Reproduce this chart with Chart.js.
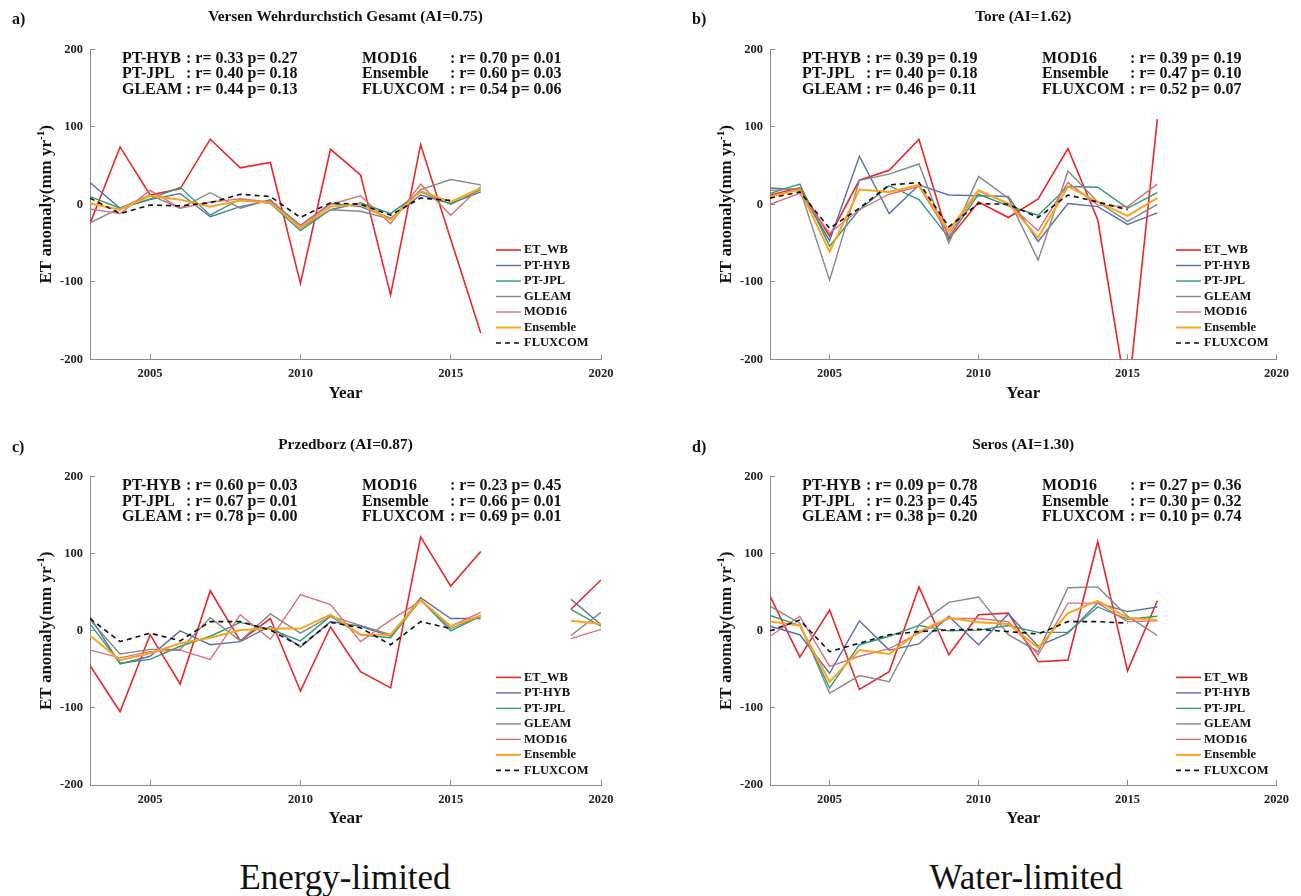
<!DOCTYPE html>
<html>
<head>
<meta charset="utf-8">
<script src="https://cdn.jsdelivr.net/npm/chart.js@4.4.0/dist/chart.umd.min.js"></script>
<style>
  body { margin: 0; background: #fff; width: 1301px; height: 896px; position: relative; overflow: hidden; }
  canvas { position: absolute; }
  .cap { position: absolute; width: 400px; text-align: center; font: 35px/35px "Liberation Serif", serif; color: #111; top: 860px; }
</style>
</head>
<body>
<canvas id="pa"></canvas>
<canvas id="pb"></canvas>
<canvas id="pc"></canvas>
<canvas id="pd"></canvas>
<div class="cap" style="left:145px">Energy-limited</div>
<div class="cap" style="left:826px">Water-limited</div>
<script>
// years on the x axis (2003 .. 2020)
const years = [2003, 2004, 2005, 2006, 2007, 2008, 2009, 2010, 2011, 2012, 2013, 2014, 2015, 2016, 2017, 2018, 2019, 2020];
const xTicks = [2005, 2010, 2015, 2020];
const yTicks = [-200, -100, 0, 100, 200];

const seriesNames = ['ET_WB', 'PT-HYB', 'PT-JPL', 'GLEAM', 'MOD16', 'Ensemble', 'FLUXCOM'];
const seriesColors = ['#e8262c', '#5a6eae', '#2f9b74', '#878787', '#d8707c', '#fba61a', '#111111'];
const seriesWidths = [1.6, 1.4, 1.4, 1.4, 1.4, 2, 1.6];

const statNamesLeft = ['PT-HYB', 'PT-JPL', 'GLEAM'];
const statNamesRight = ['MOD16', 'Ensemble', 'FLUXCOM'];

// a) Versen Wehrdurchstich Gesamt
const aETWB     = [-25, 74, 12, 20, 84, 47, 54, -102, 71, 38, -117, 77, -45, -166];
const aPTHYB    = [28, -5, 6, 14, -16, -3, 5, -27, 1, -3, -18, 12, 1, 16];
const aPTJPL    = [10, -5, 7, 22, -14, 7, 1, -34, -7, 2, -12, 16, 0, 19];
const aGLEAM    = [-24, -5, 12, -5, 15, -5, 6, -31, -7, -9, -19, 19, 32, 25];
const aMOD16    = [-6, -12, 18, -5, 3, 7, 3, -28, 0, 11, -25, 26, -14, 23];
const aEnsemble = [1, -7, 11, 6, -3, 5, 2, -30, -3, 0, -20, 17, 3, 21];
const aFLUXCOM  = [8, -12, -1, -2, 2, 13, 10, -17, 2, 0, -14, 8, 5];
const aStats = ['r= 0.33 p= 0.27', 'r= 0.40 p= 0.18', 'r= 0.44 p= 0.13', 'r= 0.70 p= 0.01', 'r= 0.60 p= 0.03', 'r= 0.54 p= 0.06'];

// b) Tore
const bETWB     = [12, 21, -41, 31, 44, 84, -45, 3, -17, 7, 72, -20, -255, 110];
const bPTHYB    = [21, 19, -47, 62, -12, 25, 12, 11, 10, -48, 1, -3, -26, -11];
const bPTJPL    = [14, 26, -54, -7, 24, 6, -43, 13, -2, -14, 23, 22, -5, 15];
const bGLEAM    = [18, 20, -98, 31, 39, 52, -50, 36, 8, -72, 43, 3, -22, 0];
const bMOD16    = [0, 14, -37, -7, 13, 23, -39, 17, 1, -34, 28, -1, -3, 26];
const bEnsemble = [10, 19, -61, 19, 16, 25, -34, 18, 1, -43, 23, 3, -15, 8];
const bFLUXCOM  = [8, 16, -31, -5, 25, 28, -29, 1, 0, -17, 12, 3, -7];
const bStats = ['r= 0.39 p= 0.19', 'r= 0.40 p= 0.18', 'r= 0.46 p= 0.11', 'r= 0.39 p= 0.19', 'r= 0.47 p= 0.10', 'r= 0.52 p= 0.07'];

// c) Przedborz
const cETWB     = [-45, -105, -5, -69, 52, -13, 16, -78, 5, -53, -74, 122, 58, 103, null, null, 28, 66];
const cPTHYB    = [18, -43, -33, 0, -18, -14, 6, -21, 12, 6, -7, 43, 16, 16, null, null, 41, 8];
const cPTJPL    = [9, -42, -37, -20, -7, 11, 2, -13, 19, -5, -9, 40, 0, 19, null, null, 28, 6];
const cGLEAM    = [14, -30, -24, -24, 17, -13, 22, -3, 19, 7, -5, 40, 3, 19, null, null, -6, 24];
const cMOD16    = [-25, -35, -27, -25, -37, 21, -11, 47, 34, -14, 14, 39, 6, 24, null, null, -10, 2];
const cEnsemble = [-6, -38, -29, -16, -9, 1, 3, 3, 21, -5, -5, 40, 6, 20, null, null, 13, 9];
const cFLUXCOM  = [16, -14, -3, -13, 12, 12, 1, -20, 11, 4, -18, 12, 3];
const cStats = ['r= 0.60 p= 0.03', 'r= 0.67 p= 0.01', 'r= 0.78 p= 0.00', 'r= 0.23 p= 0.45', 'r= 0.66 p= 0.01', 'r= 0.69 p= 0.01'];

// d) Seros
const dETWB     = [45, -34, 27, -76, -53, 57, -31, 21, 23, -40, -38, 116, -52, 39];
const dPTHYB    = [6, -5, -55, 13, -25, -17, 19, -18, 22, -20, -3, 36, 25, 31];
const dPTJPL    = [20, 7, -74, -18, -7, 7, 0, 1, 7, -2, -2, 31, 15, 19];
const dGLEAM    = [32, 10, -81, -58, -66, 8, 37, 44, -5, -27, 56, 57, 19, -6];
const dMOD16    = [-7, 19, -46, -33, -23, -3, 16, 16, 12, -31, 36, 36, 12, 13];
const dEnsemble = [12, 7, -66, -25, -30, -1, 17, 11, 9, -22, 23, 39, 17, 14];
const dFLUXCOM  = [0, 14, -27, -16, -5, -1, 1, 2, -1, -4, 12, 12, 10];
const dStats = ['r= 0.09 p= 0.78', 'r= 0.23 p= 0.45', 'r= 0.38 p= 0.20', 'r= 0.27 p= 0.36', 'r= 0.30 p= 0.32', 'r= 0.10 p= 0.74'];

const FONT = '"Liberation Serif", "Times New Roman", serif';
const INK = '#111';
const AXIS = '#8a8a8a';

// titles, letters, stats text, axis titles and legend
const decor = {
  id: 'decor',
  afterDraw(chart, args, o) {
    const { ctx } = chart;
    const { left: L, top: T, right: R, bottom: B } = chart.chartArea;
    ctx.save();
    ctx.fillStyle = INK;
    ctx.textBaseline = 'middle';

    ctx.textAlign = 'center';
    ctx.font = 'bold 15.3px ' + FONT;
    ctx.fillText(o.title, (L + R) / 2, T - 32);

    ctx.textAlign = 'left';
    ctx.font = 'bold 16px ' + FONT;
    ctx.fillText(o.letter, L - 78, T - 29);

    // stats
    ctx.font = 'bold 16px ' + FONT;
    for (let i = 0; i < 3; i++) {
      const y = T + 9.5 + i * 15.5;
      ctx.fillText(statNamesLeft[i], L + 32, y);
      ctx.fillText(': ' + o.stats[i], L + 96, y);
      ctx.fillText(statNamesRight[i], L + 272, y);
      ctx.fillText(': ' + o.stats[i + 3], L + 360, y);
    }

    // x title
    ctx.textAlign = 'center';
    ctx.font = 'bold 17px ' + FONT;
    ctx.fillText('Year', (L + R) / 2, B + 34);

    // y title with superscript
    ctx.save();
    ctx.translate(L - 43, (T + B) / 2);
    ctx.rotate(-Math.PI / 2);
    const main = 'ET anomaly(mm yr', sup = '-1', close = ')';
    ctx.font = 'bold 17px ' + FONT;
    const w1 = ctx.measureText(main).width, w3 = ctx.measureText(close).width;
    ctx.font = 'bold 11px ' + FONT;
    const w2 = ctx.measureText(sup).width;
    const x0 = -(w1 + w2 + w3) / 2;
    ctx.textAlign = 'left';
    ctx.font = 'bold 17px ' + FONT;
    ctx.fillText(main, x0, 0);
    ctx.font = 'bold 11px ' + FONT;
    ctx.fillText(sup, x0 + w1, -6);
    ctx.font = 'bold 17px ' + FONT;
    ctx.fillText(close, x0 + w1 + w2, 0);
    ctx.restore();

    // legend
    ctx.font = 'bold 12.5px ' + FONT;
    ctx.textAlign = 'left';
    chart.data.datasets.forEach((ds, i) => {
      const y = T + 200.7 + i * 15.5;
      ctx.beginPath();
      ctx.strokeStyle = ds.borderColor;
      ctx.lineWidth = ds.borderWidth;
      ctx.setLineDash(ds.borderDash);
      ctx.moveTo(L + 406, y);
      ctx.lineTo(L + 431, y);
      ctx.stroke();
      ctx.setLineDash([]);
      ctx.fillText(ds.label, L + 434, y);
    });
    ctx.restore();
  }
};

function buildPanel(id, pos, area, title, letter, series, stats) {
  const canvas = document.getElementById(id);
  canvas.width = pos.w; canvas.height = pos.h;
  canvas.style.left = pos.l + 'px'; canvas.style.top = pos.t + 'px';
  canvas.style.width = pos.w + 'px'; canvas.style.height = pos.h + 'px';
  const yW = 90, xH = 40;
  const tickFont = { family: FONT, weight: 'bold', size: 12.5 };
  const grid = { display: true, drawOnChartArea: false, drawTicks: true, tickLength: -5, color: AXIS };
  const border = { display: true, color: AXIS, width: 1 };

  new Chart(canvas, {
    type: 'line',
    data: {
      datasets: series.map((vals, i) => ({
        label: seriesNames[i],
        data: years.map((x, j) => ({ x, y: j < vals.length ? vals[j] : null })),
        borderColor: seriesColors[i],
        borderWidth: seriesWidths[i],
        borderDash: i === 6 ? [5, 4] : [],
        pointRadius: 0,
        tension: 0,
        spanGaps: false,
        order: 7 - i
      }))
    },
    options: {
      responsive: false,
      animation: false,
      layout: {
        padding: {
          left: area.l - pos.l - yW,
          top: area.t - pos.t,
          right: pos.l + pos.w - area.r,
          bottom: pos.t + pos.h - area.b - xH
        }
      },
      plugins: {
        legend: { display: false },
        tooltip: { enabled: false },
        decor: { title, letter, stats }
      },
      scales: {
        x: {
          type: 'linear', min: 2003, max: 2020,
          afterBuildTicks: s => { s.ticks = xTicks.map(v => ({ value: v })); },
          afterFit: s => { s.height = xH; },
          ticks: { font: tickFont, color: '#222', padding: 12, maxRotation: 0, callback: v => String(v) },
          grid, border
        },
        y: {
          type: 'linear', min: -200, max: 200,
          afterBuildTicks: s => { s.ticks = yTicks.map(v => ({ value: v })); },
          afterFit: s => { s.width = yW; },
          ticks: { font: tickFont, color: '#222', padding: 12, callback: v => String(v) },
          grid, border
        }
      }
    },
    plugins: [decor]
  });
}

buildPanel('pa', { l: 0, t: 0, w: 650, h: 430 }, { l: 90, r: 601, t: 49.3, b: 359.3 },
  'Versen Wehrdurchstich Gesamt (AI=0.75)', 'a)',
  [aETWB, aPTHYB, aPTJPL, aGLEAM, aMOD16, aEnsemble, aFLUXCOM], aStats);
buildPanel('pb', { l: 650, t: 0, w: 651, h: 430 }, { l: 770, r: 1283, t: 49.3, b: 359.3 },
  'Tore (AI=1.62)', 'b)',
  [bETWB, bPTHYB, bPTJPL, bGLEAM, bMOD16, bEnsemble, bFLUXCOM], bStats);
buildPanel('pc', { l: 0, t: 428, w: 650, h: 430 }, { l: 90, r: 601, t: 476.7, b: 785 },
  'Przedborz (AI=0.87)', 'c)',
  [cETWB, cPTHYB, cPTJPL, cGLEAM, cMOD16, cEnsemble, cFLUXCOM], cStats);
buildPanel('pd', { l: 650, t: 428, w: 651, h: 430 }, { l: 770, r: 1283, t: 476.7, b: 785 },
  'Seros (AI=1.30)', 'd)',
  [dETWB, dPTHYB, dPTJPL, dGLEAM, dMOD16, dEnsemble, dFLUXCOM], dStats);
</script>
</body>
</html>
